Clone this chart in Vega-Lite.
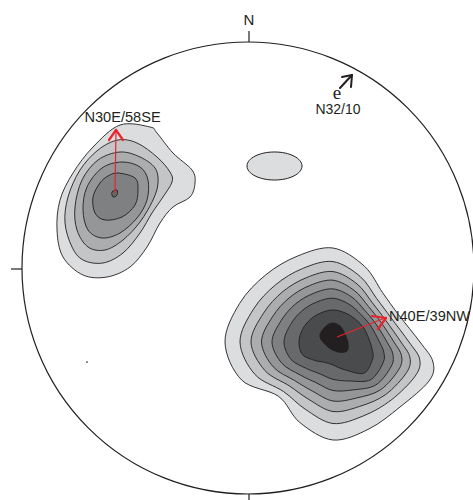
{
  "$schema": "https://vega.github.io/schema/vega-lite/v6.json",
  "width": 473,
  "height": 500,
  "autosize": {"type": "none"},
  "padding": 0,
  "background": "white",
  "config": {"view": {"stroke": null}},
  "datasets": {
    "contours": [
      {"c":"R1","lvl":1,"i":0,"x":172,"y":-74},{"c":"R1","lvl":1,"i":1,"x":150.6,"y":-46.8},{"c":"R1","lvl":1,"i":2,"x":134.5,"y":-24.5},{"c":"R1","lvl":1,"i":3,"x":116.4,"y":1.8},{"c":"R1","lvl":1,"i":4,"x":85,"y":20},{"c":"R1","lvl":1,"i":5,"x":49.4,"y":11.9},{"c":"R1","lvl":1,"i":6,"x":17.8,"y":-6.8},{"c":"R1","lvl":1,"i":7,"x":-8.3,"y":-35.3},{"c":"R1","lvl":1,"i":8,"x":-23,"y":-74},{"c":"R1","lvl":1,"i":9,"x":-6.5,"y":-111.9},{"c":"R1","lvl":1,"i":10,"x":30.6,"y":-128.4},{"c":"R1","lvl":1,"i":11,"x":51.7,"y":-154.4},{"c":"R1","lvl":1,"i":12,"x":85,"y":-172},{"c":"R1","lvl":1,"i":13,"x":121,"y":-160.9},{"c":"R1","lvl":1,"i":14,"x":152,"y":-139},{"c":"R1","lvl":1,"i":15,"x":181,"y":-113},{"c":"R1","lvl":1,"i":16,"x":185,"y":-94},
      {"c":"R2","lvl":2,"i":0,"x":161,"y":-74},{"c":"R2","lvl":2,"i":1,"x":143.1,"y":-49.9},{"c":"R2","lvl":2,"i":2,"x":128.6,"y":-30.4},{"c":"R2","lvl":2,"i":3,"x":112.2,"y":-8.5},{"c":"R2","lvl":2,"i":4,"x":85,"y":6.4},{"c":"R2","lvl":2,"i":5,"x":54.6,"y":-0.5},{"c":"R2","lvl":2,"i":6,"x":27.7,"y":-16.7},{"c":"R2","lvl":2,"i":7,"x":5.5,"y":-41.1},{"c":"R2","lvl":2,"i":8,"x":-8,"y":-74},{"c":"R2","lvl":2,"i":9,"x":6.9,"y":-106.4},{"c":"R2","lvl":2,"i":10,"x":35.5,"y":-123.5},{"c":"R2","lvl":2,"i":11,"x":57.2,"y":-141.2},{"c":"R2","lvl":2,"i":12,"x":85,"y":-155.5},{"c":"R2","lvl":2,"i":13,"x":115.6,"y":-147.8},{"c":"R2","lvl":2,"i":14,"x":143.1,"y":-132.1},{"c":"R2","lvl":2,"i":15,"x":167.2,"y":-108.1},{"c":"R2","lvl":2,"i":16,"x":171.7,"y":-91.2},
      {"c":"R3","lvl":3,"i":0,"x":153,"y":-74},{"c":"R3","lvl":3,"i":1,"x":137.6,"y":-52.2},{"c":"R3","lvl":3,"i":2,"x":124.3,"y":-34.7},{"c":"R3","lvl":3,"i":3,"x":109.1,"y":-16},{"c":"R3","lvl":3,"i":4,"x":85,"y":-3.6},{"c":"R3","lvl":3,"i":5,"x":58.3,"y":-9.7},{"c":"R3","lvl":3,"i":6,"x":34.7,"y":-23.7},{"c":"R3","lvl":3,"i":7,"x":15.5,"y":-45.2},{"c":"R3","lvl":3,"i":8,"x":3,"y":-74},{"c":"R3","lvl":3,"i":9,"x":16.7,"y":-102.3},{"c":"R3","lvl":3,"i":10,"x":41.2,"y":-117.8},{"c":"R3","lvl":3,"i":11,"x":61.1,"y":-131.6},{"c":"R3","lvl":3,"i":12,"x":85,"y":-143.5},{"c":"R3","lvl":3,"i":13,"x":111.7,"y":-138.4},{"c":"R3","lvl":3,"i":14,"x":137.6,"y":-126.6},{"c":"R3","lvl":3,"i":15,"x":158.6,"y":-104.5},{"c":"R3","lvl":3,"i":16,"x":161.9,"y":-89.3},
      {"c":"R4","lvl":4,"i":0,"x":146,"y":-74},{"c":"R4","lvl":4,"i":1,"x":132.9,"y":-54.2},{"c":"R4","lvl":4,"i":2,"x":120.5,"y":-38.5},{"c":"R4","lvl":4,"i":3,"x":106.3,"y":-22.5},{"c":"R4","lvl":4,"i":4,"x":85,"y":-12.2},{"c":"R4","lvl":4,"i":5,"x":61.6,"y":-17.6},{"c":"R4","lvl":4,"i":6,"x":41,"y":-30},{"c":"R4","lvl":4,"i":7,"x":24.4,"y":-48.9},{"c":"R4","lvl":4,"i":8,"x":13.5,"y":-74},{"c":"R4","lvl":4,"i":9,"x":25.2,"y":-98.8},{"c":"R4","lvl":4,"i":10,"x":46.5,"y":-112.5},{"c":"R4","lvl":4,"i":11,"x":64.6,"y":-123.2},{"c":"R4","lvl":4,"i":12,"x":85,"y":-133},{"c":"R4","lvl":4,"i":13,"x":108.2,"y":-130.1},{"c":"R4","lvl":4,"i":14,"x":132.7,"y":-121.7},{"c":"R4","lvl":4,"i":15,"x":150.9,"y":-101.3},{"c":"R4","lvl":4,"i":16,"x":153.5,"y":-87.6},
      {"c":"R5","lvl":5,"i":0,"x":139,"y":-74},{"c":"R5","lvl":5,"i":1,"x":128.1,"y":-56.2},{"c":"R5","lvl":5,"i":2,"x":116.7,"y":-42.3},{"c":"R5","lvl":5,"i":3,"x":103.7,"y":-29},{"c":"R5","lvl":5,"i":4,"x":85,"y":-20.9},{"c":"R5","lvl":5,"i":5,"x":64.9,"y":-25.6},{"c":"R5","lvl":5,"i":6,"x":47.2,"y":-36.2},{"c":"R5","lvl":5,"i":7,"x":33.2,"y":-52.5},{"c":"R5","lvl":5,"i":8,"x":24,"y":-74},{"c":"R5","lvl":5,"i":9,"x":33.8,"y":-95.2},{"c":"R5","lvl":5,"i":10,"x":52.1,"y":-106.9},{"c":"R5","lvl":5,"i":11,"x":68.1,"y":-114.7},{"c":"R5","lvl":5,"i":12,"x":85,"y":-122.5},{"c":"R5","lvl":5,"i":13,"x":104.8,"y":-121.9},{"c":"R5","lvl":5,"i":14,"x":127.9,"y":-116.9},{"c":"R5","lvl":5,"i":15,"x":143.3,"y":-98.2},{"c":"R5","lvl":5,"i":16,"x":144.8,"y":-85.9},
      {"c":"R6","lvl":6,"i":0,"x":131.5,"y":-74},{"c":"R6","lvl":6,"i":1,"x":122.9,"y":-58.3},{"c":"R6","lvl":6,"i":2,"x":112.7,"y":-46.3},{"c":"R6","lvl":6,"i":3,"x":100.7,"y":-36},{"c":"R6","lvl":6,"i":4,"x":85,"y":-30.2},{"c":"R6","lvl":6,"i":5,"x":68.5,"y":-34.1},{"c":"R6","lvl":6,"i":6,"x":53.9,"y":-42.9},{"c":"R6","lvl":6,"i":7,"x":42.6,"y":-56.4},{"c":"R6","lvl":6,"i":8,"x":36,"y":-74},{"c":"R6","lvl":6,"i":9,"x":43,"y":-91.4},{"c":"R6","lvl":6,"i":10,"x":58.5,"y":-100.5},{"c":"R6","lvl":6,"i":11,"x":71.8,"y":-105.8},{"c":"R6","lvl":6,"i":12,"x":85,"y":-111.3},{"c":"R6","lvl":6,"i":13,"x":101.2,"y":-113},{"c":"R6","lvl":6,"i":14,"x":122.7,"y":-111.7},{"c":"R6","lvl":6,"i":15,"x":135.1,"y":-94.8},{"c":"R6","lvl":6,"i":16,"x":135.8,"y":-84.1},
      {"c":"R7","lvl":7,"i":0,"x":122,"y":-74},{"c":"R7","lvl":7,"i":1,"x":116.4,"y":-61},{"c":"R7","lvl":7,"i":2,"x":107.6,"y":-51.4},{"c":"R7","lvl":7,"i":3,"x":97.1,"y":-44.9},{"c":"R7","lvl":7,"i":4,"x":85,"y":-42},{"c":"R7","lvl":7,"i":5,"x":72.9,"y":-44.9},{"c":"R7","lvl":7,"i":6,"x":62.4,"y":-51.4},{"c":"R7","lvl":7,"i":7,"x":54.5,"y":-61.4},{"c":"R7","lvl":7,"i":8,"x":51,"y":-74},{"c":"R7","lvl":7,"i":9,"x":54.5,"y":-86.6},{"c":"R7","lvl":7,"i":10,"x":66.6,"y":-92.4},{"c":"R7","lvl":7,"i":11,"x":76.6,"y":-94.3},{"c":"R7","lvl":7,"i":12,"x":85,"y":-97},{"c":"R7","lvl":7,"i":13,"x":96.5,"y":-101.7},{"c":"R7","lvl":7,"i":14,"x":116.1,"y":-105.1},{"c":"R7","lvl":7,"i":15,"x":124.7,"y":-90.5},{"c":"R7","lvl":7,"i":16,"x":124.2,"y":-81.8},
      {"c":"RK","lvl":8,"i":0,"x":72,"y":-69},{"c":"RK","lvl":8,"i":1,"x":76,"y":-60},{"c":"RK","lvl":8,"i":2,"x":84,"y":-55},{"c":"RK","lvl":8,"i":3,"x":92,"y":-58},{"c":"RK","lvl":8,"i":4,"x":97,"y":-66},{"c":"RK","lvl":8,"i":5,"x":100,"y":-75},{"c":"RK","lvl":8,"i":6,"x":99,"y":-83},{"c":"RK","lvl":8,"i":7,"x":90,"y":-84},{"c":"RK","lvl":8,"i":8,"x":80,"y":-79},
      {"c":"L1","lvl":1,"i":0,"x":-128,"y":143},{"c":"L1","lvl":1,"i":1,"x":-98,"y":141},{"c":"L1","lvl":1,"i":2,"x":-91,"y":135},{"c":"L1","lvl":1,"i":3,"x":-75,"y":115},{"c":"L1","lvl":1,"i":4,"x":-56,"y":98},{"c":"L1","lvl":1,"i":5,"x":-53,"y":85},{"c":"L1","lvl":1,"i":6,"x":-58,"y":71},{"c":"L1","lvl":1,"i":7,"x":-75,"y":61},{"c":"L1","lvl":1,"i":8,"x":-88,"y":45},{"c":"L1","lvl":1,"i":9,"x":-101,"y":21},{"c":"L1","lvl":1,"i":10,"x":-118,"y":1},{"c":"L1","lvl":1,"i":11,"x":-141,"y":-9},{"c":"L1","lvl":1,"i":12,"x":-165,"y":-7},{"c":"L1","lvl":1,"i":13,"x":-185,"y":11},{"c":"L1","lvl":1,"i":14,"x":-191,"y":38},{"c":"L1","lvl":1,"i":15,"x":-188,"y":68},{"c":"L1","lvl":1,"i":16,"x":-175,"y":95},{"c":"L1","lvl":1,"i":17,"x":-155,"y":121},
      {"c":"L2","lvl":2,"i":0,"x":-130,"y":128},{"c":"L2","lvl":2,"i":1,"x":-111,"y":125},{"c":"L2","lvl":2,"i":2,"x":-91,"y":111},{"c":"L2","lvl":2,"i":3,"x":-78,"y":96},{"c":"L2","lvl":2,"i":4,"x":-76,"y":86},{"c":"L2","lvl":2,"i":5,"x":-85,"y":71},{"c":"L2","lvl":2,"i":6,"x":-96,"y":55},{"c":"L2","lvl":2,"i":7,"x":-108,"y":35},{"c":"L2","lvl":2,"i":8,"x":-125,"y":15},{"c":"L2","lvl":2,"i":9,"x":-145,"y":5},{"c":"L2","lvl":2,"i":10,"x":-165,"y":8},{"c":"L2","lvl":2,"i":11,"x":-176,"y":21},{"c":"L2","lvl":2,"i":12,"x":-183,"y":45},{"c":"L2","lvl":2,"i":13,"x":-180,"y":71},{"c":"L2","lvl":2,"i":14,"x":-168,"y":98},{"c":"L2","lvl":2,"i":15,"x":-150,"y":118},
      {"c":"L3","lvl":3,"i":0,"x":-128,"y":116},{"c":"L3","lvl":3,"i":1,"x":-108,"y":111},{"c":"L3","lvl":3,"i":2,"x":-93,"y":100},{"c":"L3","lvl":3,"i":3,"x":-90,"y":85},{"c":"L3","lvl":3,"i":4,"x":-95,"y":68},{"c":"L3","lvl":3,"i":5,"x":-108,"y":46},{"c":"L3","lvl":3,"i":6,"x":-125,"y":28},{"c":"L3","lvl":3,"i":7,"x":-143,"y":18},{"c":"L3","lvl":3,"i":8,"x":-160,"y":21},{"c":"L3","lvl":3,"i":9,"x":-171,"y":38},{"c":"L3","lvl":3,"i":10,"x":-173,"y":61},{"c":"L3","lvl":3,"i":11,"x":-166,"y":88},{"c":"L3","lvl":3,"i":12,"x":-150,"y":108},
      {"c":"L4","lvl":4,"i":0,"x":-126,"y":106},{"c":"L4","lvl":4,"i":1,"x":-108,"y":101},{"c":"L4","lvl":4,"i":2,"x":-100,"y":88},{"c":"L4","lvl":4,"i":3,"x":-101,"y":68},{"c":"L4","lvl":4,"i":4,"x":-111,"y":50},{"c":"L4","lvl":4,"i":5,"x":-128,"y":35},{"c":"L4","lvl":4,"i":6,"x":-146,"y":30},{"c":"L4","lvl":4,"i":7,"x":-160,"y":38},{"c":"L4","lvl":4,"i":8,"x":-165,"y":58},{"c":"L4","lvl":4,"i":9,"x":-161,"y":81},{"c":"L4","lvl":4,"i":10,"x":-146,"y":100},
      {"c":"L5","lvl":5,"i":0,"x":-130,"y":95},{"c":"L5","lvl":5,"i":1,"x":-113,"y":90},{"c":"L5","lvl":5,"i":2,"x":-110,"y":78},{"c":"L5","lvl":5,"i":3,"x":-113,"y":63},{"c":"L5","lvl":5,"i":4,"x":-126,"y":51},{"c":"L5","lvl":5,"i":5,"x":-143,"y":48},{"c":"L5","lvl":5,"i":6,"x":-153,"y":55},{"c":"L5","lvl":5,"i":7,"x":-155,"y":71},{"c":"L5","lvl":5,"i":8,"x":-148,"y":85},{"c":"L5","lvl":5,"i":9,"x":-140,"y":92},
      {"c":"LK","lvl":6,"i":0,"x":-136,"y":76},{"c":"LK","lvl":6,"i":1,"x":-131,"y":78},{"c":"LK","lvl":6,"i":2,"x":-131,"y":73},{"c":"LK","lvl":6,"i":3,"x":-135,"y":71}
    ],
    "ticks": [
      {"x":1,"y":226,"x2":1,"y2":237},
      {"x":-237,"y":-1,"x2":-226,"y2":-1},
      {"x":1,"y":-226,"x2":1,"y2":-236}
    ],
    "redShafts": [
      {"x":-133,"y":75,"x2":-132,"y2":137},
      {"x":89,"y":-69,"x2":137,"y2":-50}
    ],
    "redHeads": [
      {"x":-139,"y":128,"x2":-132,"y2":138},
      {"x":-125,"y":128,"x2":-132,"y2":138},
      {"x":124,"y":-48,"x2":138,"y2":-50},
      {"x":130,"y":-61,"x2":138,"y2":-50}
    ],
    "blackArrow": [
      {"x":92,"y":180,"x2":104,"y2":193},
      {"x":94,"y":191,"x2":104,"y2":193},
      {"x":103,"y":181,"x2":104,"y2":193}
    ],
    "bigLabels": [
      {"t":"N30E/58SE","x":-125.5,"y":146},
      {"t":"N40E/39NW","x":181.5,"y":-53}
    ],
    "smallLabels": [
      {"t":"N32/10","x":90,"y":154}
    ]
  },
  "encoding": {
    "x": {"field": "x", "type": "quantitative", "scale": {"domain": [-248, 225], "nice": false, "zero": false}, "axis": null},
    "y": {"field": "y", "type": "quantitative", "scale": {"domain": [-232, 268], "nice": false, "zero": false}, "axis": null}
  },
  "layer": [
    {
      "data": {"values": [{"x": 0, "y": 0}]},
      "mark": {"type": "point", "shape": "circle", "size": 204304, "filled": false, "stroke": "#231f20", "strokeWidth": 1.2, "opacity": 1}
    },
    {
      "data": {"name": "ticks"},
      "mark": {"type": "rule", "stroke": "#231f20", "strokeWidth": 1.2},
      "encoding": {"x2": {"field": "x2"}, "y2": {"field": "y2"}}
    },
    {
      "data": {"name": "contours"}, "transform": [{"filter": "datum.lvl == 1"}],
      "mark": {"type": "line", "interpolate": "cardinal-closed", "fill": "#dcdddf", "stroke": "#231f20", "strokeWidth": 0.9},
      "encoding": {"detail": {"field": "c"}, "order": {"field": "i", "type": "quantitative"}}
    },
    {
      "data": {"name": "contours"}, "transform": [{"filter": "datum.lvl == 2"}],
      "mark": {"type": "line", "interpolate": "cardinal-closed", "fill": "#c4c5c7", "stroke": "#231f20", "strokeWidth": 0.9},
      "encoding": {"detail": {"field": "c"}, "order": {"field": "i", "type": "quantitative"}}
    },
    {
      "data": {"name": "contours"}, "transform": [{"filter": "datum.lvl == 3"}],
      "mark": {"type": "line", "interpolate": "cardinal-closed", "fill": "#acadaf", "stroke": "#231f20", "strokeWidth": 0.9},
      "encoding": {"detail": {"field": "c"}, "order": {"field": "i", "type": "quantitative"}}
    },
    {
      "data": {"name": "contours"}, "transform": [{"filter": "datum.lvl == 4"}],
      "mark": {"type": "line", "interpolate": "cardinal-closed", "fill": "#959698", "stroke": "#231f20", "strokeWidth": 0.9},
      "encoding": {"detail": {"field": "c"}, "order": {"field": "i", "type": "quantitative"}}
    },
    {
      "data": {"name": "contours"}, "transform": [{"filter": "datum.lvl == 5"}],
      "mark": {"type": "line", "interpolate": "cardinal-closed", "fill": "#7f8082", "stroke": "#231f20", "strokeWidth": 0.9},
      "encoding": {"detail": {"field": "c"}, "order": {"field": "i", "type": "quantitative"}}
    },
    {
      "data": {"name": "contours"}, "transform": [{"filter": "datum.lvl == 6"}],
      "mark": {"type": "line", "interpolate": "cardinal-closed", "fill": "#68696b", "stroke": "#231f20", "strokeWidth": 0.9},
      "encoding": {"detail": {"field": "c"}, "order": {"field": "i", "type": "quantitative"}}
    },
    {
      "data": {"name": "contours"}, "transform": [{"filter": "datum.lvl == 7"}],
      "mark": {"type": "line", "interpolate": "cardinal-closed", "fill": "#4a4b4d", "stroke": "#231f20", "strokeWidth": 0.9},
      "encoding": {"detail": {"field": "c"}, "order": {"field": "i", "type": "quantitative"}}
    },
    {
      "data": {"name": "contours"}, "transform": [{"filter": "datum.lvl == 8"}],
      "mark": {"type": "line", "interpolate": "cardinal-closed", "fill": "#231f20", "stroke": "#231f20", "strokeWidth": 0.9},
      "encoding": {"detail": {"field": "c"}, "order": {"field": "i", "type": "quantitative"}}
    },
    {
      "data": {"values": [{"x": 26.5, "y": 102}]},
      "mark": {"type": "point", "shape": "M -1 0 A 1 0.51 0 1 1 1 0 A 1 0.51 0 1 1 -1 0 Z", "size": 3025, "filled": true, "fill": "#dcdddf", "stroke": "#231f20", "strokeWidth": 1, "opacity": 1}
    },
    {
      "data": {"name": "redShafts"},
      "mark": {"type": "rule", "stroke": "#e8232b", "strokeWidth": 1.2},
      "encoding": {"x2": {"field": "x2"}, "y2": {"field": "y2"}}
    },
    {
      "data": {"name": "redHeads"},
      "mark": {"type": "rule", "stroke": "#e8232b", "strokeWidth": 2.2, "strokeCap": "round"},
      "encoding": {"x2": {"field": "x2"}, "y2": {"field": "y2"}}
    },
    {
      "data": {"name": "blackArrow"},
      "mark": {"type": "rule", "stroke": "#231f20", "strokeWidth": 2, "strokeCap": "round"},
      "encoding": {"x2": {"field": "x2"}, "y2": {"field": "y2"}}
    },
    {
      "data": {"name": "bigLabels"},
      "mark": {"type": "text", "font": "Liberation Sans", "fontSize": 14.6, "align": "center", "baseline": "alphabetic", "color": "#231f20"},
      "encoding": {"text": {"field": "t"}}
    },
    {
      "data": {"name": "smallLabels"},
      "mark": {"type": "text", "font": "Liberation Sans", "fontSize": 14, "align": "center", "baseline": "alphabetic", "color": "#231f20"},
      "encoding": {"text": {"field": "t"}}
    },
    {
      "data": {"values": [{"t": "N", "x": 1, "y": 243}]},
      "mark": {"type": "text", "font": "Liberation Sans", "fontSize": 15, "align": "center", "baseline": "alphabetic", "color": "#231f20"},
      "encoding": {"text": {"field": "t"}}
    },
    {
      "data": {"values": [{"t": "e", "x": 89, "y": 169}]},
      "mark": {"type": "text", "font": "Liberation Serif", "fontSize": 19, "align": "center", "baseline": "alphabetic", "color": "#231f20"},
      "encoding": {"text": {"field": "t"}}
    },
    {
      "data": {"values": [{"x": -161, "y": -94}]},
      "mark": {"type": "point", "shape": "circle", "size": 3, "filled": true, "color": "#231f20", "opacity": 1}
    }
  ]
}
